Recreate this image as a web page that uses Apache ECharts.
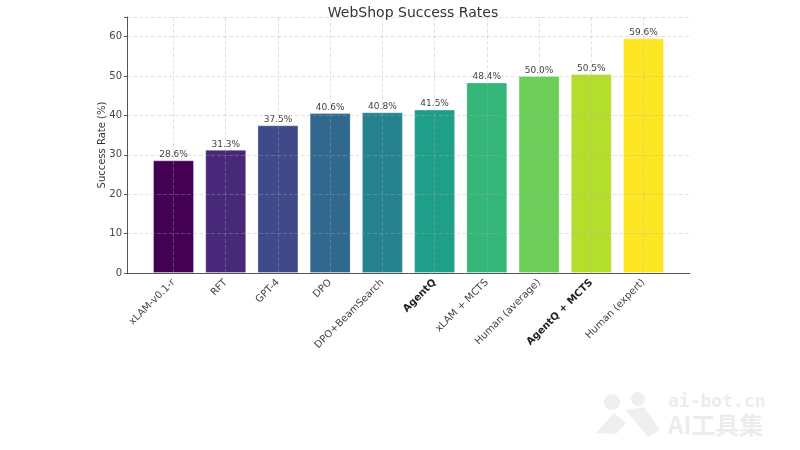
<!DOCTYPE html>
<html>
<head>
<meta charset="utf-8">
<script src="https://cdn.jsdelivr.net/npm/echarts@6/dist/echarts.min.js"></script>
<style>html,body{margin:0;padding:0;background:#fff;}#c{width:800px;height:450px;}</style>
</head>
<body>
<div id="c"></div>
<script>
const categories = ['xLAM-v0.1-r','RFT','GPT-4','DPO','DPO+BeamSearch','AgentQ','xLAM + MCTS','Human (average)','AgentQ + MCTS','Human (expert)'];
const boldCategories = ['AgentQ','AgentQ + MCTS'];
const values = [28.6, 31.3, 37.5, 40.6, 40.8, 41.5, 48.4, 50.0, 50.5, 59.6];
const barColors = ['#440154','#482878','#3e4a89','#31688e','#26828e','#1f9e89','#35b779','#6dcd59','#b4de2c','#fde725'];
const yTicks = [0,10,20,30,40,50,60];

const font = 'DejaVu Sans';
const gridLine = {color:'rgba(176,176,176,0.35)', type:[4,2], width:1};
const chart = echarts.init(document.getElementById('c'), null, {renderer:'canvas'});
const option = {
  backgroundColor:'#fff',
  animation:false,
  title:{text:'WebShop Success Rates', left:408, textAlign:'center', top:1,
    textStyle:{fontFamily:font, fontSize:14, fontWeight:'normal', color:'#333'}},
  grid:[
    {left:127, right:110, top:17, bottom:177},
    {left:173.5, right:156.5, top:17, bottom:177}
  ],
  xAxis:[
    {type:'value', gridIndex:0, min:0, max:1, axisLabel:{show:false}, axisTick:{show:false}, splitLine:{show:false},
      axisLine:{show:true, lineStyle:{color:'#555', width:1}}, z:6},
    {type:'category', gridIndex:1, boundaryGap:false, z:5,
      data:categories.map(c => boldCategories.includes(c) ? {value:c, textStyle:{fontWeight:'bold', color:'#222'}} : c),
      axisLine:{show:false}, axisTick:{show:false},
      axisLabel:{rotate:45, interval:0, fontFamily:font, fontSize:10, color:'#444', margin:8},
      splitLine:{show:true, lineStyle:gridLine}}
  ],
  yAxis:[
    {type:'value', gridIndex:0, min:0, max:65, interval:10, z:5,
      name:'Success Rate (%)', nameLocation:'middle', nameGap:25, nameMoveOverlap:false,
      nameTextStyle:{fontFamily:font, fontSize:10, color:'#333', verticalAlign:'middle'},
      axisLine:{show:true, lineStyle:{color:'#555', width:1}},
      axisTick:{show:true, length:3, lineStyle:{color:'#555'}},
      axisLabel:{fontFamily:font, fontSize:10, color:'#444', margin:5,
        formatter:v => yTicks.includes(v) ? String(v) : ''},
      splitLine:{show:true, lineStyle:gridLine}},
    {type:'value', gridIndex:1, min:0, max:65, show:false, splitLine:{show:false}}
  ],
  series:[{
    type:'bar', xAxisIndex:1, yAxisIndex:1, clip:false, barWidth:41, z:2,
    data:values.map((v,i)=>({value:v, itemStyle:{color:barColors[i], borderColor:'rgba(255,255,255,0.3)', borderWidth:1}})),
    label:{show:true, position:'top', distance:1, formatter:p=>p.value.toFixed(1)+'%',
      fontFamily:font, fontSize:9, color:'#444'}
  }],
  graphic:[
    {type:'circle', shape:{cx:612, cy:402, r:8}, style:{fill:'#efefef'}, silent:true},
    {type:'circle', shape:{cx:638, cy:399, r:7}, style:{fill:'#efefef'}, silent:true},
    {type:'polygon', shape:{points:[[596,433],[614,413],[626,423],[616,434]]}, style:{fill:'#efefef'}, silent:true},
    {type:'polygon', shape:{points:[[626,410],[644,407],[660,430],[648,437]]}, style:{fill:'#efefef'}, silent:true},
    {type:'text', left:668, top:393, style:{text:'ai-bot.cn', fill:'#ececec', font:'bold 18px "DejaVu Sans Mono", monospace'}, silent:true},
    {type:'text', left:668, top:413, style:{text:'AI工具集', fill:'#ececec', font:'bold 24px "Noto Sans CJK SC"'}, silent:true}
  ]
};
chart.setOption(option);
</script>
</body>
</html>
